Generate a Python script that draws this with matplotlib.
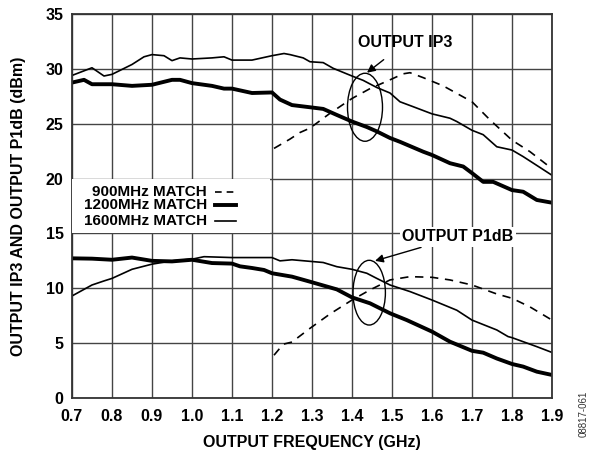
import numpy as np
import matplotlib.pyplot as plt
from matplotlib.patches import Ellipse

plt.rcParams['font.family'] = ['Liberation Sans', 'DejaVu Sans']
plt.rcParams['font.weight'] = 'bold'

# OUTPUT IP3, 1600MHz match (thin)
ip3_1600_f = [0.70, 0.75, 0.78, 0.80, 0.85, 0.88, 0.90, 0.93, 0.95, 0.97, 1.00, 1.05, 1.08, 1.10, 1.15,
              1.20, 1.23, 1.245, 1.278, 1.295, 1.328, 1.353, 1.40, 1.428, 1.462, 1.495, 1.52, 1.553, 1.60,
              1.645, 1.662, 1.70, 1.728, 1.762, 1.80, 1.828, 1.862, 1.90]
ip3_1600 = [29.4, 30.1, 29.35, 29.5, 30.4, 31.1, 31.3, 31.2, 30.75, 31.0, 30.9, 31.0, 31.1, 30.8, 30.8,
            31.2, 31.4, 31.3, 31.0, 30.65, 30.57, 30.05, 29.35, 28.95, 28.3, 27.8, 27.0, 26.55, 25.9,
            25.5, 25.2, 24.4, 24.0, 22.9, 22.6, 22.0, 21.2, 20.3]

# OUTPUT IP3, 1200MHz match (thick)
ip3_1200_f = [0.70, 0.73, 0.75, 0.80, 0.85, 0.90, 0.95, 0.97, 1.00, 1.05, 1.08, 1.10, 1.15, 1.20, 1.22,
              1.25, 1.295, 1.328, 1.362, 1.40, 1.437, 1.462, 1.495, 1.52, 1.578, 1.60, 1.645, 1.678,
              1.70, 1.728, 1.753, 1.80, 1.828, 1.862, 1.90]
ip3_1200 = [28.75, 29.0, 28.6, 28.6, 28.45, 28.55, 29.0, 29.0, 28.7, 28.45, 28.2, 28.2, 27.8, 27.85, 27.2,
            26.7, 26.5, 26.35, 25.8, 25.2, 24.7, 24.3, 23.7, 23.35, 22.45, 22.15, 21.4, 21.1,
            20.5, 19.7, 19.7, 18.95, 18.8, 18.05, 17.8]

# OUTPUT IP3, 900MHz match (dashed)
ip3_900_f = [1.205, 1.245, 1.27, 1.295, 1.345, 1.40, 1.445, 1.495, 1.528, 1.545, 1.578, 1.628, 1.70,
             1.745, 1.80, 1.845, 1.90]
ip3_900 = [22.75, 23.6, 24.2, 24.6, 25.95, 27.3, 28.2, 29.0, 29.55, 29.65, 29.2, 28.45, 27.0,
           25.35, 23.5, 22.45, 20.9]

# OUTPUT P1dB, 1200MHz match (thick)
p1_1200_f = [0.70, 0.75, 0.80, 0.85, 0.90, 0.95, 1.00, 1.05, 1.10, 1.12, 1.15, 1.18, 1.20, 1.25,
             1.295, 1.362, 1.40, 1.445, 1.495, 1.537, 1.60, 1.645, 1.70, 1.728, 1.762, 1.80, 1.828,
             1.862, 1.90]
p1_1200 = [12.73, 12.7, 12.6, 12.8, 12.5, 12.45, 12.6, 12.3, 12.25, 12.0, 11.85, 11.67, 11.37, 11.06,
           10.6, 9.9, 9.17, 8.63, 7.72, 7.1, 6.05, 5.13, 4.3, 4.13, 3.6, 3.1, 2.86,
           2.4, 2.1]

# OUTPUT P1dB, 1600MHz match (thin)
p1_1600_f = [0.70, 0.75, 0.78, 0.80, 0.85, 0.90, 0.95, 1.00, 1.03, 1.10, 1.20, 1.22, 1.25, 1.328,
             1.362, 1.40, 1.437, 1.462, 1.495, 1.545, 1.60, 1.662, 1.70, 1.762, 1.79, 1.80, 1.828,
             1.862, 1.90]
p1_1600 = [9.3, 10.3, 10.67, 10.9, 11.73, 12.2, 12.5, 12.65, 12.88, 12.8, 12.8, 12.5, 12.6, 12.35,
           11.97, 11.73, 11.37, 10.9, 10.3, 9.7, 8.93, 8.0, 7.1, 6.2, 5.6, 5.5, 5.13,
           4.68, 4.15]

# OUTPUT P1dB, 900MHz match (dashed)
p1_900_f = [1.205, 1.228, 1.25, 1.295, 1.345, 1.40, 1.445, 1.495, 1.545, 1.60, 1.645, 1.70, 1.762,
            1.80, 1.845, 1.90]
p1_900 = [3.9, 4.9, 5.1, 6.35, 7.66, 8.93, 9.85, 10.76, 11.06, 11.0, 10.76, 10.3, 9.48,
          9.09, 8.3, 7.1]

fig = plt.figure(figsize=(5.94, 4.55), dpi=100)
ax = fig.add_axes([0.1212, 0.1253, 0.8081, 0.8439])

ax.plot(ip3_900_f, ip3_900, color='black', lw=1.2, dashes=(5, 4))
ax.plot(ip3_1200_f, ip3_1200, color='black', lw=2.8)
ax.plot(ip3_1600_f, ip3_1600, color='black', lw=1.2)
ax.plot(p1_900_f, p1_900, color='black', lw=1.2, dashes=(5, 4))
ax.plot(p1_1200_f, p1_1200, color='black', lw=2.8)
ax.plot(p1_1600_f, p1_1600, color='black', lw=1.2)

ax.set_xlim(0.7, 1.9)
ax.set_ylim(0, 35)
ax.set_xticks(np.arange(0.7, 1.91, 0.1))
ax.set_xticklabels(['%.1f' % v for v in np.arange(0.7, 1.91, 0.1)])
ax.set_yticks(np.arange(0, 36, 5))
ax.tick_params(length=0, labelsize=11.5, pad=6)
ax.tick_params(axis='x', pad=8)
ax.grid(True, color='#444444', lw=1.0)
ax.set_axisbelow(True)
for s in ax.spines.values():
    s.set_linewidth(1.3)
    s.set_color('#333333')

ax.set_xlabel('OUTPUT FREQUENCY (GHz)', fontsize=11.5, fontweight='bold', labelpad=8)
ax.set_ylabel('OUTPUT IP3 AND OUTPUT P1dB (dBm)', fontsize=11.5, fontweight='bold', labelpad=14)

# ellipses and annotations
ax.add_patch(Ellipse((1.4325, 26.5), 0.0875, 6.2, fill=False, lw=1.0, color='black', zorder=5))
ax.add_patch(Ellipse((1.443, 9.6), 0.081, 5.9, fill=False, lw=1.0, color='black', zorder=5))
ax.annotate('OUTPUT IP3', xy=(1.4375, 29.65), xytext=(1.534, 32.4), ha='center', va='center',
            fontsize=11.5, fontweight='bold',
            arrowprops=dict(arrowstyle='-|>', color='black', lw=1.0, mutation_scale=12,
                            shrinkA=8, shrinkB=0))
ax.annotate('OUTPUT P1dB', xy=(1.4575, 12.5), xytext=(1.664, 14.7), ha='center', va='center',
            fontsize=11.5, fontweight='bold',
            bbox=dict(boxstyle='square,pad=0.15', fc='white', ec='none'),
            arrowprops=dict(arrowstyle='-|>', color='black', lw=1.0, mutation_scale=12,
                            shrinkA=2, shrinkB=0))

# legend box (white, between 15 and 20 gridlines, up to 1.2)
ax.add_patch(plt.Rectangle((0.701, 15.08), 0.495, 4.84, fc='white', ec='none', zorder=3))
leg_labels = ['900MHz MATCH', '1200MHz MATCH', '1600MHz MATCH']
leg_y = [18.8, 17.6, 16.1]
leg_lw = [1.2, 2.8, 1.2]
for lab, yy, lw_ in zip(leg_labels, leg_y, leg_lw):
    ax.text(1.037, yy, lab, ha='right', va='center', fontsize=11, fontweight='bold', zorder=4)
    ln, = ax.plot([1.057, 1.11], [yy, yy], color='black', lw=lw_, zorder=4)
    if lab.startswith('900'):
        ln.set_dashes((4, 3))

fig.text(0.982, 0.09, '08817-061', rotation=90, fontsize=7, fontweight='normal',
         ha='center', va='center', color='#333333')

fig.savefig('out.png', dpi=100)
